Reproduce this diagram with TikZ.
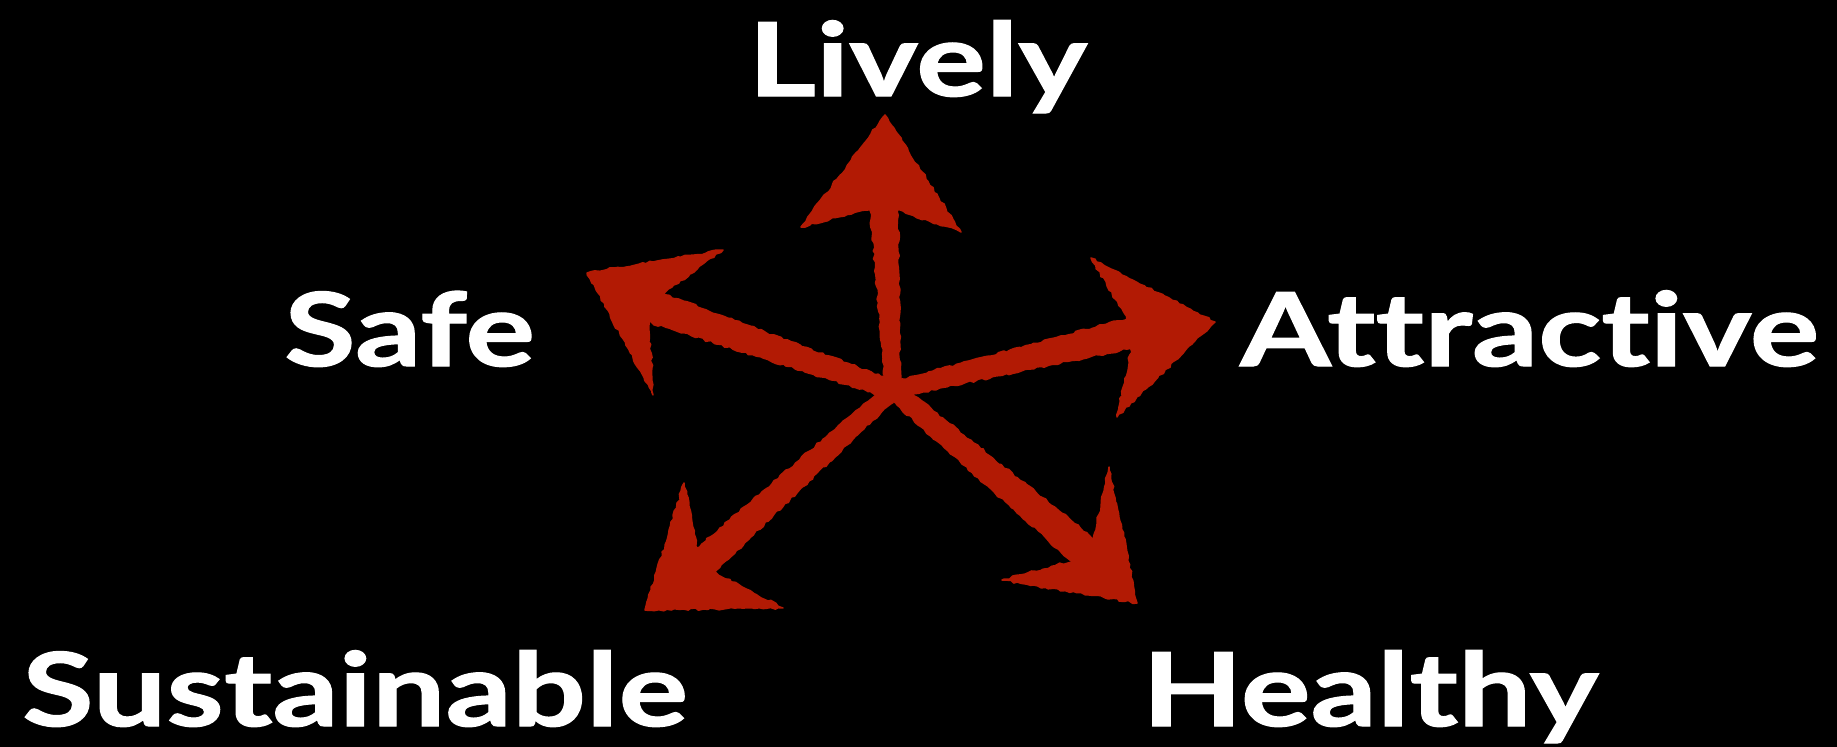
\documentclass[tikz,border=0pt]{standalone}
\usepackage{fontspec}
\setmainfont{Lato}[Ligatures={NoCommon,NoRare}, BoldFeatures={FakeStretch=1.28, FakeBold=1.2}]
\usetikzlibrary{calc,decorations.pathmorphing}
\definecolor{arrowred}{RGB}{178,26,4}
\tikzset{
  lbl/.style={text=white, inner sep=0pt, anchor=base west, font=\bfseries\fontsize{102}{110}\selectfont},
  arr/.style={fill=arrowred, draw=arrowred, line width=1.5pt, line join=round,
    decorate, decoration={random steps, segment length=4pt, amplitude=1.2pt}},
}
\pgfmathsetseed{7}
\begin{document}
\begin{tikzpicture}[x=1pt,y=-1pt]
\fill[black] (0,0) rectangle (1837,747);
\useasboundingbox (0,0) rectangle (1837,747);
% labels
\node[lbl] (lively) at (748,96) {Lively};
\node[lbl] (safe) at (284,366) {Safe};
\node[lbl] (attr) at (1240,366) {Attractive};
\node[lbl] (sust) at (22,726) {Sustainable};
\node[lbl] (heal) at (1142,726) {Healthy};
% centre
\coordinate (c) at (893,390);
% up arrow
\coordinate (uT) at (885,115);
\coordinate (uA) at (801,227);
\coordinate (uB) at (961,232);
\coordinate (uN) at (884,205);
% upper-left arrow
\coordinate (lT) at (587,273);
\coordinate (lA) at (723,250);
\coordinate (lB) at (653,395);
\coordinate (lN) at (648,305);
% right arrow
\coordinate (rT) at (1215,322);
\coordinate (rA) at (1091,258);
\coordinate (rB) at (1117,417);
\coordinate (rN) at (1135,332);
% lower-left arrow
\coordinate (sT) at (645,610);
\coordinate (sA) at (684,483);
\coordinate (sB) at (783,608);
\coordinate (sN) at (700,565);
% lower-right arrow
\coordinate (hT) at (1137,603);
\coordinate (hA) at (1109,467);
\coordinate (hB) at (1002,580);
\coordinate (hN) at (1090,556);
% shafts
\foreach \n/\w/\v in {uN/7/14, lN/9/16, rN/8/15, sN/8/15, hN/9/16}{
  \fill[arr] ($(c)!\w pt!90:(\n)$) -- ($(\n)!\v pt!-90:(c)$) -- ($(\n)!\v pt!90:(c)$) -- ($(c)!\w pt!-90:(\n)$) -- cycle;
}
% heads
\foreach \p in {u,l,r,s,h}{
  \fill[arr] (\p T) -- (\p A) -- (\p N) -- (\p B) -- cycle;
}
\end{tikzpicture}
\end{document}
